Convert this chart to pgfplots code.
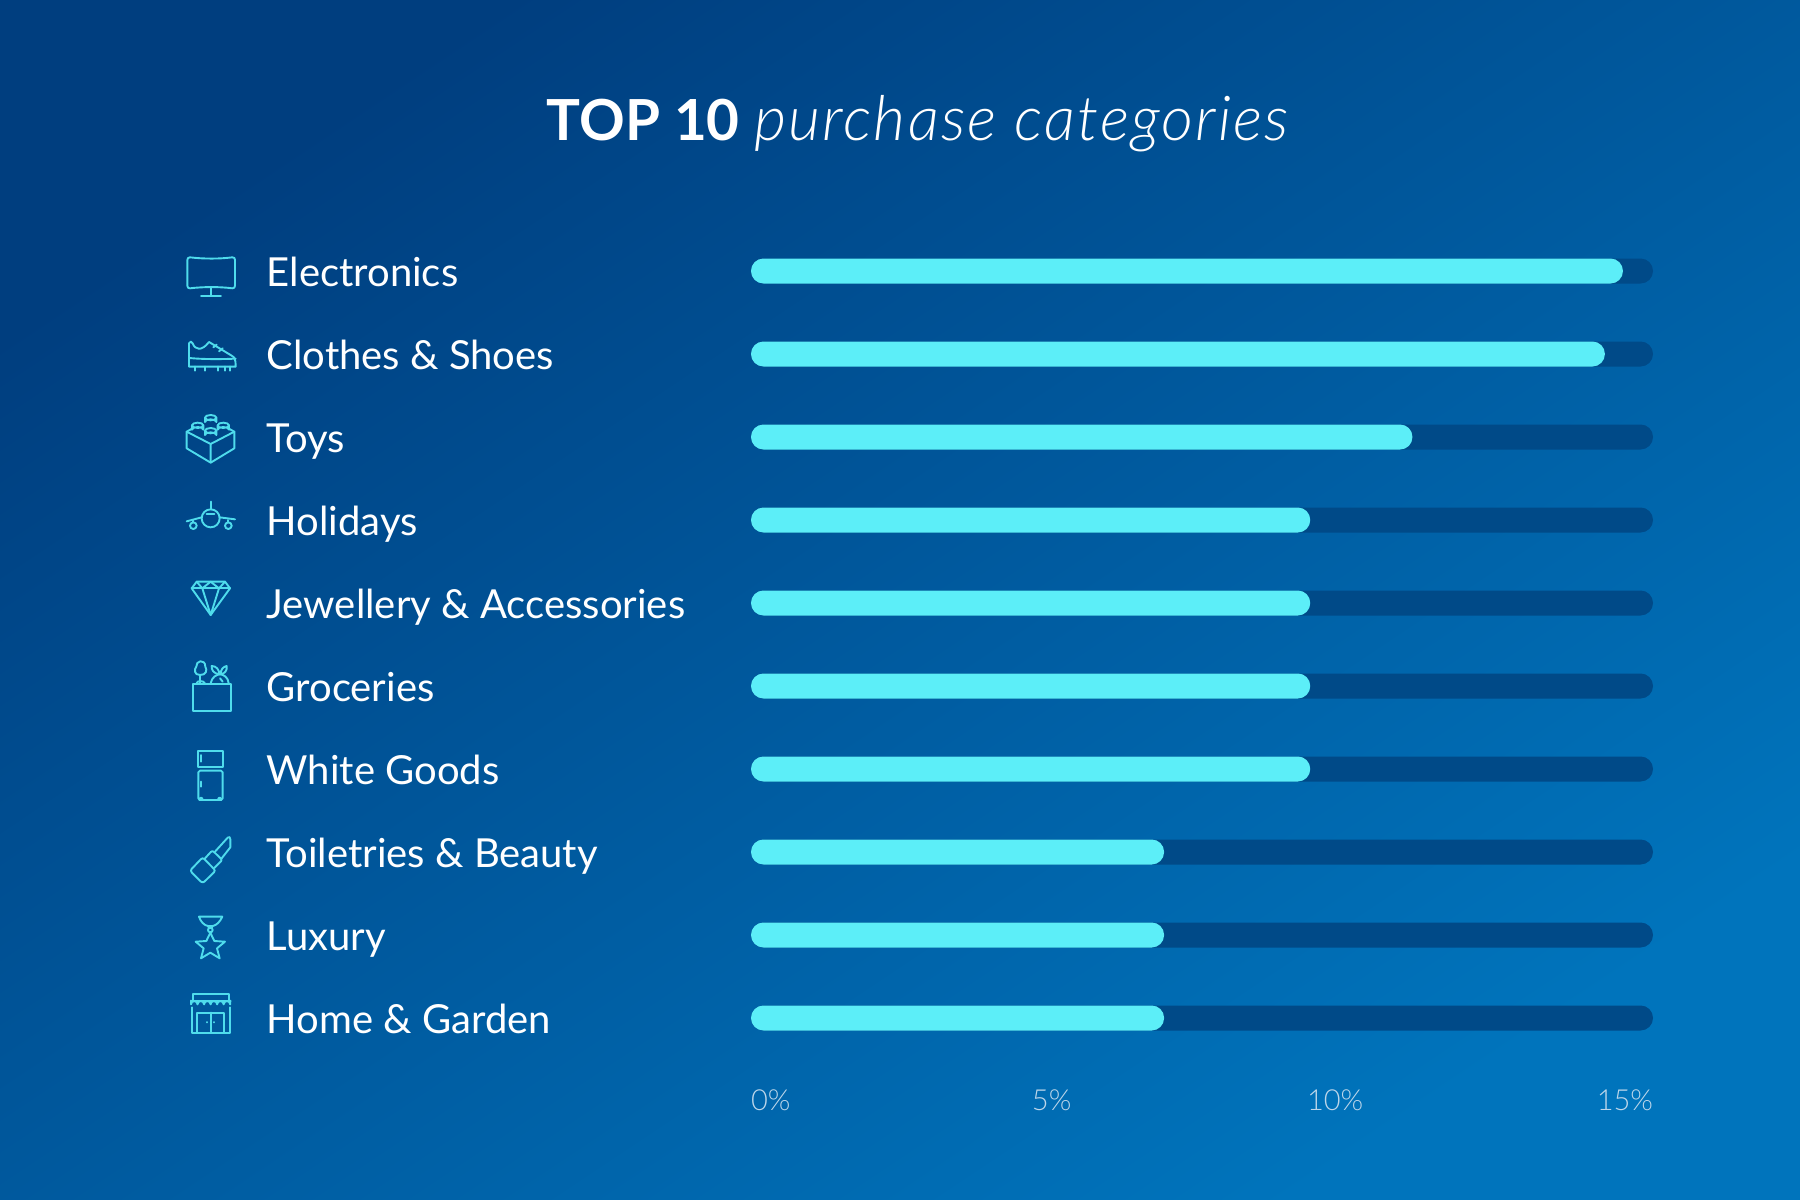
\documentclass[border=0pt]{standalone}
\usepackage{fontspec}
\usepackage{pgfplots}
\usepackage{pgfplotstable}
\pgfplotsset{compat=1.18}
\setmainfont{Lato}
\newfontfamily\lightfont{Lato Light}
\newfontfamily\titlefont{Lato Light Italic}[LetterSpace=3.5]

\definecolor{bgA}{HTML}{003E7F}
\definecolor{bgB}{HTML}{0074BC}
\definecolor{barCol}{HTML}{5CEEF8}
\definecolor{trackCol}{HTML}{004A88}
\definecolor{iconCol}{HTML}{4FDCEC}
\definecolor{tickCol}{HTML}{BDD6EA}
\definecolor{iconBg}{HTML}{004E92}

%% row: 0 is the top bar
\pgfplotstableread{
row value
0 14.5
1 14.2
2 11.0
3 9.3
4 9.3
5 9.3
6 9.3
7 6.87
8 6.87
9 6.87
}\purchases
\pgfplotstableread{
row value
0 15
1 15
2 15
3 15
4 15
5 15
6 15
7 15
8 15
9 15
}\track

\newcommand{\stud}[2]{%
  \path[draw=iconCol,fill=iconBg] (#1-17,#2) -- (#1-17,#2+13) arc[start angle=180,end angle=360,x radius=17,y radius=8]
    -- (#1+17,#2) arc[start angle=0,end angle=180,x radius=17,y radius=8] -- cycle;
  \draw (#1-17,#2) arc[start angle=180,end angle=360,x radius=17,y radius=8];
}

\begin{document}
\begin{tikzpicture}
\shade[top color=bgA,bottom color=bgB,shading angle=33.7] (0pt,0pt) rectangle (900pt,600pt);
\path[use as bounding box] (0pt,0pt) rectangle (900pt,600pt);

\begin{axis}[
  at={(375.5pt,70.25pt)},
  anchor=south west,
  scale only axis,
  width=451pt,
  height=415pt,
  clip=false,
  xmin=0,xmax=15,
  ymin=-0.5,ymax=9.5,
  y dir=reverse,
  axis line style={draw=none},
  major tick length=0pt,
  tick style={draw=none},
  xtick={0,5,10,15},
  xticklabels={\rlap{0\%},5\%,\makebox[0pt][c]{10\%\kern17.2pt},\llap{15\%}},
  xticklabel style={text=tickCol,font=\lightfont\fontsize{14.5}{14.5}\selectfont,anchor=base,yshift=-25.5pt},
  ytick={0,...,9},
  yticklabels={Electronics,Clothes \& Shoes,Toys,Holidays,Jewellery \& Accessories,Groceries,White Goods,Toiletries \& Beauty,Luxury,Home \& Garden},
  yticklabel style={text=white,font=\fontsize{20}{20}\selectfont,anchor=base west,xshift=-245.7pt,yshift=-7.5pt},
  title={\fontsize{28.3}{28.3}\selectfont\textbf{TOP 10} {\fontsize{31}{31}\selectfont\titlefont purchase categories}},
  title style={at={(axis description cs:0.185,1)},anchor=base,yshift=38.3pt,text=white},
  xbar,
  bar width=12.5pt,
  bar shift=0pt,
]
\addplot[fill=trackCol,draw=none,rounded corners=6.2pt] table[x=value,y=row] {\track};
\addplot[fill=barCol,draw=none,rounded corners=6.2pt] table[x=value,y=row] {\purchases};
\end{axis}

%% icons, upper five, in units of the 3x crop at (170,240)
\begin{scope}[shift={(85pt,480pt)},x=0.16667pt,y=-0.16667pt,draw=iconCol,line width=0.95pt,line join=round,line cap=round]
  %% monitor
  \draw (60,52) .. controls (100,57) and (150,57) .. (187,52) .. controls (193,52) and (195,55) .. (195,60)
    -- (195,137) .. controls (195,143) and (192,145) .. (187,145) .. controls (150,140) and (100,140) .. (60,145)
    .. controls (55,145) and (52,143) .. (52,137) -- (52,60) .. controls (52,55) and (55,52) .. (60,52) -- cycle;
  \draw (122,145) -- (122,168) (93,169) -- (153,169);
  %% shoe
  \draw (57,380) -- (57,310) .. controls (60,303) and (65,303) .. (68,310) .. controls (75,330) and (95,335) .. (117,306)
    -- (185,347) .. controls (195,352) and (197,360) .. (197,380) -- cycle;
  \draw (57,354) .. controls (100,358) and (150,358) .. (197,356);
  \draw (75,380) -- (75,392) (105,380) -- (105,392) (143,380) -- (143,392) (165,380) -- (165,392) (181,380) -- (181,392);
  \draw (130,322) -- (140,314) (147,334) -- (158,325);
  %% toy brick
  \draw (68,565) -- (50,575) -- (50,625) -- (122,668) -- (193,625) -- (193,575) -- (175,565);
  \draw (50,575) -- (122,612) -- (193,575) (122,612) -- (122,668);
  \stud{122}{533}
  \stud{83}{556}
  \stud{160}{556}
  \stud{122}{572}
  %% plane
  \draw (122,835) circle[radius=27];
  \draw (122,785) -- (122,808) (110,823) -- (133,823);
  \draw (50,844) -- (95,832) (149,832) -- (195,838);
  \draw (70,857) circle[radius=10] (175,857) circle[radius=10];
  \draw (70,842) -- (70,847) (175,840) -- (175,847);
  %% diamond
  \draw (80,1025) -- (165,1025) -- (180,1045) -- (122,1125) -- (65,1045) -- cycle;
  \draw (65,1045) -- (180,1045);
  \draw (80,1025) -- (97,1045) -- (122,1025) -- (147,1045) -- (165,1025);
  \draw (97,1045) -- (122,1125) -- (147,1045);
\end{scope}

%% icons, lower five, in units of the 3x crop at (170,640)
\begin{scope}[shift={(85pt,280pt)},x=0.16667pt,y=-0.16667pt,draw=iconCol,line width=0.95pt,line join=round,line cap=round]
  %% groceries
  \draw (68,132) rectangle (182,212);
  \draw (90,130) -- (90,105) (80,130) .. controls (80,122) and (100,120) .. (105,130);
  \draw (90,105) .. controls (72,105) and (72,88) .. (79,80) .. controls (76,62) and (106,55) .. (106,80)
    .. controls (113,92) and (108,105) .. (90,105) -- cycle;
  \draw (122,130) .. controls (125,112) and (140,103) .. (150,103) .. controls (160,103) and (175,112) .. (176,130);
  \draw (148,103) .. controls (130,100) and (124,90) .. (125,78) .. controls (138,78) and (148,88) .. (148,103);
  \draw (152,103) .. controls (152,88) and (160,80) .. (170,78) .. controls (172,92) and (165,100) .. (152,103);
  \draw (150,115) -- (158,125);
  %% fridge
  \draw (85,332) rectangle (158,382);
  \draw[rounded corners=0.8pt] (85,392) -- (158,392) -- (158,480) -- (85,480) -- cycle;
  \draw (93,345) -- (93,365) (93,425) -- (93,440);
  \draw (88,480) arc[start angle=180,end angle=360,x radius=5,y radius=7];
  \draw (144,480) arc[start angle=180,end angle=360,x radius=5,y radius=7];
  %% lipstick
  \draw[rounded corners=1.2pt] (60,692) -- (98,652) -- (137,692) -- (98,730) -- cycle;
  \draw[rounded corners=1pt] (105,655) -- (127,631) -- (157,660) -- (133,684);
  \draw (135,635) -- (173,593) .. controls (178,588) and (181,592) .. (181,598) -- (181,622) -- (155,655);
  %% trophy and star
  \draw (87,830) -- (157,830) .. controls (150,845) and (140,856) .. (128,858) -- (114,858) .. controls (102,856) and (92,845) .. (87,830) -- cycle;
  \draw (121,870) circle[radius=7];
  \draw (114,858) -- (117,864) (128,858) -- (125,864);
  \draw (121,878) -- (133,903) -- (165,905) -- (141,925) -- (149,955) -- (121,938) -- (93,955) -- (101,925) -- (77,905) -- (109,903) -- cycle;
  %% shop
  \draw (68,1082) -- (68,1062) -- (178,1062) -- (178,1082);
  \draw (63,1082) -- (181,1082);
  \draw (63,1082) -- (63,1093) arc[start angle=180,end angle=360,radius=9.8]
    arc[start angle=180,end angle=360,radius=9.8] arc[start angle=180,end angle=360,radius=9.8]
    arc[start angle=180,end angle=360,radius=9.8] arc[start angle=180,end angle=360,radius=9.8]
    arc[start angle=180,end angle=360,radius=9.8] -- (181,1082);
  \draw (65,1102) -- (65,1178) -- (180,1178) -- (180,1102);
  \draw (82,1178) -- (82,1118) -- (162,1118) -- (162,1178);
  \draw (122,1118) -- (122,1178);
  \draw (110,1146) -- (110,1147) (133,1146) -- (133,1147);
\end{scope}
\end{tikzpicture}
\end{document}
